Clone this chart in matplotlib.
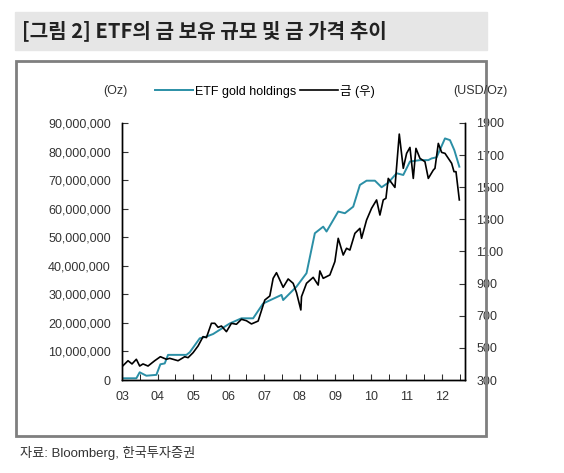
import matplotlib.pyplot as plt
from matplotlib.patches import Rectangle

plt.rcParams['font.family'] = ['Liberation Sans', 'Noto Sans CJK KR', 'DejaVu Sans']

# ETF gold holdings (Oz) (x in zoom px -> year)
etf_x = [67, 110, 120, 140, 170, 182, 195, 205, 260, 270, 300, 320, 340, 390, 425, 460,
         490, 545, 550, 590, 620, 645, 670, 680, 715, 735, 760, 780, 800, 825, 845, 865,
         890, 910, 930, 960, 985, 995, 1010, 1035, 1050, 1063, 1078]
etf_m = [0.6, 0.6, 2.7, 1.5, 1.8, 5.5, 5.8, 8.8, 8.8, 9.7, 14.6, 15.2, 16.1, 19.8, 21.6, 21.6,
         26.8, 29.8, 28.0, 32.7, 37.4, 51.4, 53.7, 52.0, 59.0, 58.4, 60.7, 68.3, 69.8, 69.8, 67.5, 69.1,
         72.4, 71.8, 76.5, 77.0, 77.0, 77.6, 78.0, 84.6, 84.0, 80.5, 74.7]

# gold price (USD/Oz)
gold_x = [67, 85, 97, 110, 120, 130, 145, 165, 182, 200, 210, 235, 255, 265, 280, 295, 310, 320,
          335, 345, 355, 365, 380, 395, 410, 425, 440, 455, 475, 495, 510, 520, 530, 550, 565, 580,
          590, 603, 605, 620, 640, 655, 660, 670, 690, 705, 715, 730, 740, 750, 765, 780, 785, 800,
          815, 830, 840, 850, 858, 865, 885, 898, 910, 920, 930, 940, 948, 960, 975, 985, 1000,
          1005, 1015, 1025, 1035, 1055, 1062, 1068, 1078]
gold = [383, 420, 400, 429, 387, 400, 387, 420, 445, 429, 435, 420, 445, 439, 470, 512, 570, 564,
        653, 653, 628, 636, 601, 653, 647, 678, 669, 649, 667, 798, 823, 933, 968, 877, 929, 902,
        844, 736, 819, 902, 939, 891, 979, 933, 954, 1037, 1182, 1078, 1120, 1109, 1213, 1244, 1182, 1296,
        1369, 1421, 1327, 1421, 1431, 1555, 1499, 1831, 1618, 1711, 1748, 1555, 1742, 1680, 1659, 1555, 1607,
        1618, 1773, 1717, 1711, 1649, 1597, 1597, 1421]

year_labels = ['03', '04', '05', '06', '07', '08', '09', '10', '11', '12']

def to_year(px):
    return [2003 + (p - 67) / 106.5 for p in px]

teal = '#2b8fa6'
fig = plt.figure(figsize=(5.64, 4.73), dpi=100)

# title band and frame
fig.patches.append(Rectangle((15 / 564, 1 - 50 / 473), 472 / 564, 38 / 473,
                             transform=fig.transFigure, color='#e6e6e6', zorder=0))
fig.text(22 / 564, 1 - 31 / 473, '[그림 2] ETF의 금 보유 규모 및 금 가격 추이',
         fontsize=14.5, fontweight='bold', va='center', color='#222222',
         family=['Noto Sans CJK KR', 'DejaVu Sans'])
fig.patches.append(Rectangle((16 / 564, 1 - 436 / 473), 470 / 564, 375 / 473,
                             transform=fig.transFigure, fill=False, ec='#7f7f7f', lw=2))
fig.text(20 / 564, 1 - 453 / 473, '자료: Bloomberg, 한국투자증권', fontsize=9.5, va='center',
         color='#333333')

ax = fig.add_axes([122 / 564, 1 - 380 / 473, 343 / 564, 257 / 473])
ax.plot(to_year(etf_x), [v * 1e6 for v in etf_m], color=teal, lw=1.4, label='ETF gold holdings')
ax.set_ylim(0, 90e6)
ax.set_yticks(range(0, 90000001, 10000000))
ax.set_yticklabels([f'{v:,}' for v in range(0, 90000001, 10000000)])
ax.set_xlim(2003, 2003 + (1095 - 67) / 106.5)
ax.set_xticks([2003 + i for i in range(10)])
ax.set_xticks([2003.5 + i for i in range(10)], minor=True)
ax.set_xticklabels(year_labels)

ax2 = ax.twinx()
ax2.plot(to_year(gold_x), gold, color='black', lw=1.2, label='금 (우)')
ax2.set_ylim(300, 1900)
ax2.set_yticks(range(300, 1901, 200))

for a in (ax, ax2):
    a.tick_params(direction='in', labelsize=9, colors='#333333', length=4, pad=8)
    a.tick_params(which='minor', direction='in', length=4)
    for s in a.spines.values():
        s.set_linewidth(1)
ax.spines['top'].set_visible(False)
ax2.spines['top'].set_visible(False)

fig.text(127 / 564, 1 - 91 / 473, '(Oz)', ha='right', va='center', fontsize=9, color='#333333')
fig.text(508 / 564, 1 - 91 / 473, '(USD/Oz)', ha='right', va='center', fontsize=9, color='#333333')
h1, l1 = ax.get_legend_handles_labels()
h2, l2 = ax2.get_legend_handles_labels()
fig.legend(h1 + h2, l1 + l2, loc='center', bbox_to_anchor=(265 / 564, 1 - 91 / 473), ncol=2,
           frameon=False, fontsize=9, handlelength=3, handletextpad=0.2, columnspacing=0.3)

fig.savefig('out.png', dpi=100)
